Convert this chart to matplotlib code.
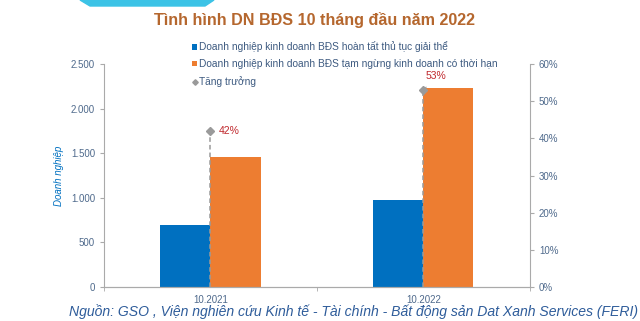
import numpy as np
import matplotlib.pyplot as plt
from matplotlib.patches import Polygon
from matplotlib.ticker import FuncFormatter, MultipleLocator

plt.rcParams['font.family'] = ['Liberation Sans', 'DejaVu Sans']

# data
categories = ['10.2021', '10.2022']
giai_the = [695, 975]          # hoàn tất thủ tục giải thể
tam_ngung = [1460, 2230]       # tạm ngừng kinh doanh có thời hạn
tang_truong = [42, 53]         # %

BLUE = '#0070C0'
ORANGE = '#ED7D31'
TICK = '#4F6A8C'

fig = plt.figure(figsize=(6.4, 3.21), dpi=100)
ax = fig.add_axes([0.1625, 0.106, 0.6655, 0.694])
ax2 = ax.twinx()

x = np.arange(len(categories))
w = 0.235
ax.bar(x - w / 2, giai_the, w, color=BLUE,
       label='Doanh nghiệp kinh doanh BĐS hoàn tất thủ tục giải thể')
ax.bar(x + w / 2, tam_ngung, w, color=ORANGE,
       label='Doanh nghiệp kinh doanh BĐS tạm ngừng kinh doanh có thời hạn')

# growth markers with dashed drop lines
ax2.vlines(x, 0, tang_truong, colors='#9A9A9A', linestyles=(0, (3, 2)), lw=1.1)
ax2.plot(x, tang_truong, 'D', color='#9A9A9A', ms=4, ls='none', label='Tăng trưởng')
ax2.annotate(f'{tang_truong[0]}%', (x[0], tang_truong[0]), xytext=(6, 0),
             textcoords='offset points', color='#C0282D', fontsize=7.5,
             va='center', ha='left')
ax2.annotate(f'{tang_truong[1]}%', (x[1], tang_truong[1]), xytext=(9, 10),
             textcoords='offset points', color='#C0282D', fontsize=7.5,
             va='center', ha='center',
             arrowprops=dict(arrowstyle='-', color='#9A9A9A', lw=0.8,
                             shrinkA=3, shrinkB=0))

ax.set_xlim(-0.5, 1.5)
ax.set_ylim(0, 2500)
ax2.set_ylim(0, 60)
ax.yaxis.set_major_locator(MultipleLocator(500))
ax2.yaxis.set_major_locator(MultipleLocator(10))
ax.yaxis.set_major_formatter(FuncFormatter(lambda v, p: f'{int(v):,}'.replace(',', '.')))
ax2.yaxis.set_major_formatter(FuncFormatter(lambda v, p: f'{int(v)}%'))

ax.set_xticks(x)
ax.set_xticklabels(categories)
ax.set_xticks([-0.5, 0.5, 1.5], minor=True)
ax.tick_params(axis='x', which='major', length=0, labelsize=7, colors=TICK, pad=6)
ax.tick_params(axis='x', which='minor', length=3, color='#AAAAAA')
ax.tick_params(axis='y', length=3, color='#AAAAAA', labelsize=7, labelcolor=TICK)
ax2.tick_params(axis='y', length=3, color='#AAAAAA', labelsize=7, labelcolor=TICK)

for a in (ax, ax2):
    a.spines['top'].set_visible(False)
    for s in ('left', 'right', 'bottom'):
        a.spines[s].set_color('#AAAAAA')
        a.spines[s].set_linewidth(0.8)
ax2.spines['left'].set_visible(False)
ax.spines['right'].set_visible(False)

ax.set_ylabel('Doanh nghiệp', color=BLUE, fontsize=7, style='italic')
ax.yaxis.set_label_coords(-0.095, 0.5)

h1, l1 = ax.get_legend_handles_labels()
h2, l2 = ax2.get_legend_handles_labels()
leg = fig.legend(h1 + h2, l1 + l2, loc='upper left', bbox_to_anchor=(0.286, 0.9),
                 frameon=False, fontsize=7.3, handlelength=0.5, handleheight=0.5,
                 handletextpad=0.2, labelspacing=0.68, markerscale=0.7)
for t in leg.get_texts():
    t.set_color('#3D5A80')

fig.text(0.491, 0.938, 'Tình hình DN BĐS 10 tháng đầu năm 2022', ha='center', va='center',
         fontsize=11.6, fontweight='bold', color='#B5672E')
fig.text(0.553, 0.03, 'Nguồn: GSO , Viện nghiên cứu Kinh tế - Tài chính - Bất động sản '
         'Dat Xanh Services (FERI)', ha='center', va='center', fontsize=10.1,
         style='italic', color='#2E5C9A')

# cyan tab at the top
fig.patches.append(Polygon([(80 / 640, 1.0), (214 / 640, 1.0), (205 / 640, 1 - 6 / 321),
                            (90 / 640, 1 - 6 / 321)], closed=True,
                           transform=fig.transFigure, color='#3CC3E6'))

fig.savefig('out.png', dpi=100)
